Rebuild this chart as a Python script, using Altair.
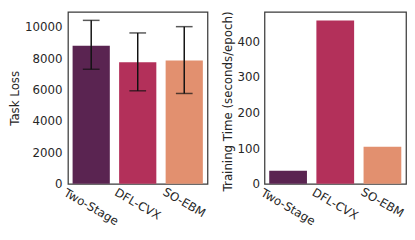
import altair as alt
import pandas as pd

categories = ["Two-Stage", "DFL-CVX", "SO-EBM"]
task_loss = [8790, 7730, 7850]
task_loss_lo = [7290, 5920, 5750]
task_loss_hi = [10400, 9600, 10000]
train_time = [37, 459, 104]
colors = ["#5a2451", "#b3305a", "#e2906f"]

df = pd.DataFrame({
    "method": categories,
    "loss": task_loss,
    "lo": task_loss_lo,
    "hi": task_loss_hi,
    "time": train_time,
})

FONT = "DejaVu Sans"
TXT = "#262626"

pad_expr = alt.ExprRef(expr="datum.label == 'Two-Stage' ? 23 : (datum.label == 'DFL-CVX' ? 20 : 18.5)")

xaxis = alt.Axis(
    title=None, labelAngle=30, labelAlign="center", labelBaseline="middle",
    labelPadding=pad_expr, ticks=False, tickSize=0, domain=False, grid=False,
    labelFont=FONT, labelFontSize=12, labelColor=TXT, labelOverlap=False, labelBound=False,
)

xenc = alt.X("method:N", sort=categories, axis=xaxis,
             scale=alt.Scale(paddingInner=0.2, paddingOuter=0.1))
color_enc = alt.Color("method:N", sort=categories,
                      scale=alt.Scale(domain=categories, range=colors), legend=None)


def yaxis(title, values, lp, **kw):
    return alt.Axis(
        title=title, values=values, ticks=False, tickSize=0, domain=False, grid=False,
        labelFont=FONT, labelFontSize=12, labelColor=TXT, labelPadding=lp,
        labelOverlap=False, labelBound=False, labelFlush=False,
        titleFont=FONT, titleFontSize=12, titleFontWeight="normal", titleColor=TXT,
        titlePadding=3, format="d", **kw,
    )


loss_axis = yaxis("Task Loss", [0, 2000, 4000, 6000, 8000, 10000], 6)
loss_scale = alt.Scale(domain=[0, 10940], nice=False, zero=True)

base = alt.Chart(df)

bars1 = base.mark_bar().encode(
    x=xenc,
    y=alt.Y("loss:Q", scale=loss_scale, axis=loss_axis),
    color=color_enc,
)
err = base.mark_rule(color="#111111", strokeWidth=1.5).encode(
    x=xenc,
    y=alt.Y("lo:Q", scale=loss_scale, axis=loss_axis), y2="hi:Q",
)
cap_lo = base.mark_tick(color="#111111", thickness=1.5, size=17).encode(
    x=xenc, y=alt.Y("lo:Q", scale=loss_scale, axis=loss_axis))
cap_hi = base.mark_tick(color="#111111", thickness=1.5, size=17).encode(
    x=xenc, y=alt.Y("hi:Q", scale=loss_scale, axis=loss_axis))

left = alt.layer(bars1, err, cap_lo, cap_hi).properties(width=142, height=175)

right = base.mark_bar().encode(
    x=xenc,
    y=alt.Y("time:Q", scale=alt.Scale(domain=[0, 483], nice=False, zero=True),
            axis=yaxis("Training Time (seconds/epoch)", [0, 100, 200, 300, 400], 5,
                       titleAnchor="end", titleY=-1)),
    color=color_enc,
).properties(width=144, height=175)

chart = alt.hconcat(left, right, spacing=12).properties(
    padding=0, background="white"
).configure_view(
    stroke="#3a3a3a", strokeWidth=1.25
)

chart.save("out.html", embed_options={"renderer": "svg", "actions": False})
